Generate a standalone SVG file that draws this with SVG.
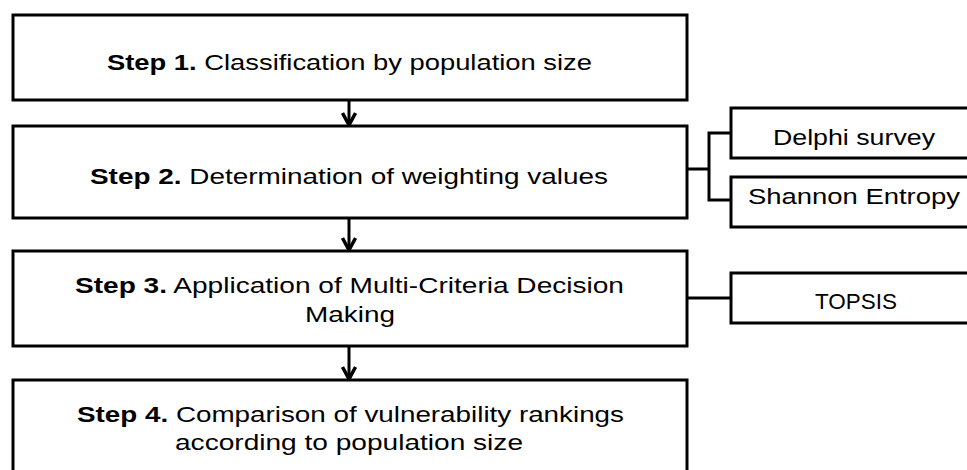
<svg xmlns="http://www.w3.org/2000/svg" width="967" height="470" viewBox="0 0 967 470">
  <style>
    .box { fill: #ffffff; stroke: #000000; stroke-width: 3; }
    .txt { font-family: "Liberation Sans", Arial, sans-serif; font-size: 22px; fill: #000000; }
    .b { font-weight: bold; }
    .conn { fill: none; stroke: #000000; stroke-width: 3; }
  </style>
  <defs>
    <marker id="arrow" viewBox="0 0 16 16" refX="14" refY="8" markerWidth="16" markerHeight="16" markerUnits="userSpaceOnUse" orient="auto">
      <path d="M2,1.5 L14,8 L2,14.5" fill="none" stroke="#000000" stroke-width="3.5"/>
    </marker>
  </defs>
  <rect width="967" height="470" fill="#ffffff"/>

  <g id="step1">
    <rect class="box" x="13" y="15" width="674" height="85"/>
    <text class="txt" x="107" y="70" textLength="485" lengthAdjust="spacingAndGlyphs"><tspan class="b">Step 1.</tspan> Classification by population size</text>
  </g>
  <g id="step2">
    <rect class="box" x="13" y="126" width="674" height="92"/>
    <text class="txt" x="90" y="184" textLength="518" lengthAdjust="spacingAndGlyphs"><tspan class="b">Step 2.</tspan> Determination of weighting values</text>
  </g>
  <g id="step3">
    <rect class="box" x="13" y="251" width="674" height="95"/>
    <text class="txt" x="75" y="293" textLength="549" lengthAdjust="spacingAndGlyphs"><tspan class="b">Step 3.</tspan> Application of Multi-Criteria Decision</text>
    <text class="txt" x="305" y="322" textLength="90" lengthAdjust="spacingAndGlyphs">Making</text>
  </g>
  <g id="step4">
    <rect class="box" x="13" y="380" width="674" height="100"/>
    <text class="txt" x="77" y="422" textLength="547" lengthAdjust="spacingAndGlyphs"><tspan class="b">Step 4.</tspan> Comparison of vulnerability rankings</text>
    <text class="txt" x="175" y="450" textLength="348" lengthAdjust="spacingAndGlyphs">according to population size</text>
  </g>
  <g id="delphi">
    <rect class="box" x="731" y="108" width="250" height="50"/>
    <text class="txt" x="773" y="145" textLength="162" lengthAdjust="spacingAndGlyphs">Delphi survey</text>
  </g>
  <g id="shannon">
    <rect class="box" x="731" y="177" width="250" height="50"/>
    <text class="txt" x="748" y="204" textLength="212" lengthAdjust="spacingAndGlyphs">Shannon Entropy</text>
  </g>
  <g id="topsis">
    <rect class="box" x="731" y="273" width="250" height="50"/>
    <text class="txt" x="815" y="309" textLength="82" lengthAdjust="spacingAndGlyphs">TOPSIS</text>
  </g>

  <g id="connectors">
    <line class="conn" x1="349" y1="100" x2="349" y2="125" marker-end="url(#arrow)"/>
    <line class="conn" x1="349" y1="218" x2="349" y2="250" marker-end="url(#arrow)"/>
    <line class="conn" x1="349" y1="346" x2="349" y2="379" marker-end="url(#arrow)"/>
    <path class="conn" d="M687,169 H709 M731,133 H709 V200 H731"/>
    <path class="conn" d="M687,298 H731"/>
  </g>
</svg>
